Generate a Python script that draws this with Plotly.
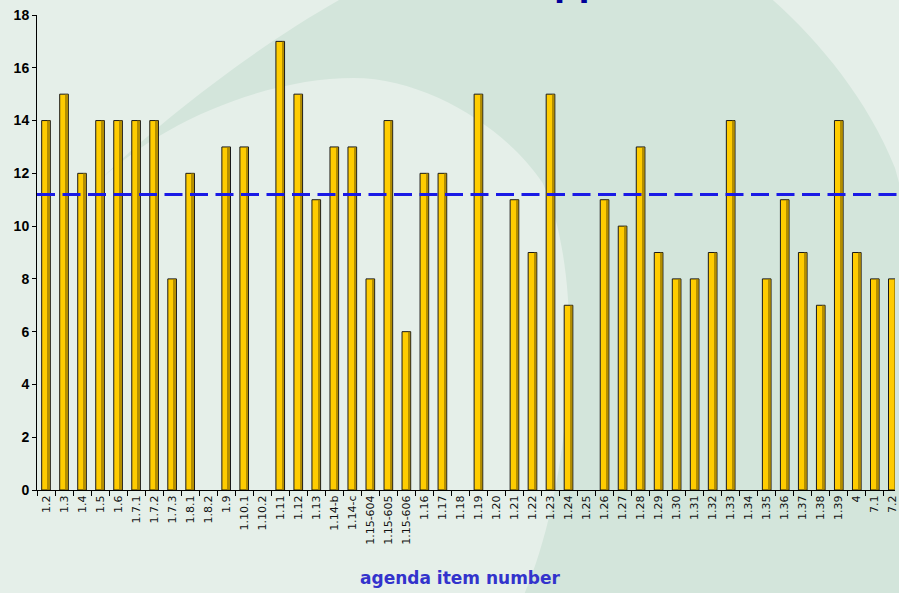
import plotly.graph_objects as go

# ---------------- data ----------------
agenda_items = ["1.2", "1.3", "1.4", "1.5", "1.6", "1.7.1", "1.7.2", "1.7.3", "1.8.1", "1.8.2",
                "1.9", "1.10.1", "1.10.2", "1.11", "1.12", "1.13", "1.14-b", "1.14-c", "1.15-604",
                "1.15-605", "1.15-606", "1.16", "1.17", "1.18", "1.19", "1.20", "1.21", "1.22",
                "1.23", "1.24", "1.25", "1.26", "1.27", "1.28", "1.29", "1.30", "1.31", "1.32",
                "1.33", "1.34", "1.35", "1.36", "1.37", "1.38", "1.39", "4", "7.1", "7.2"]
counts = [14, 15, 12, 14, 14, 14, 14, 8, 12, 0,
          13, 13, 0, 17, 15, 11, 13, 13, 8,
          14, 6, 12, 12, 0, 15, 0, 11, 9,
          15, 7, 0, 11, 10, 13, 9, 8, 8, 9,
          14, 0, 8, 11, 9, 7, 14, 9, 8, 8]
average_value = 11.2
y_ticks = [0, 2, 4, 6, 8, 10, 12, 14, 16, 18]
title_text = "Support"
x_title = "agenda item number"

# ---------------- layout geometry ----------------
W, H = 899, 593
L, R, T, B = 37, 0, 15, 103
PW, PH = W - L - R, H - T - B


def px(x):
    return (x - L) / PW


def py(y):
    return 1 - (y - T) / PH


def pt(x, y):
    return f"{px(x):.5f},{py(y):.5f}"


# dark decorative swoosh in the background
bg_path = (
    f"M {pt(92,188)} "
    f"C {pt(160,120)} {pt(260,45)} {pt(344,-2)} "
    f"L {pt(774,-2)} "
    f"C {pt(822,40)} {pt(872,100)} {pt(899,168)} "
    f"L {pt(905,190)} L {pt(905,600)} L {pt(527,600)} L {pt(527,593)} "
    f"C {pt(575,480)} {pt(590,280)} {pt(545,183)} "
    f"C {pt(510,130)} {pt(430,78)} {pt(355,78)} "
    f"C {pt(270,78)} {pt(160,120)} {pt(92,188)} Z"
)

outline_widths = [1 if v > 0 else 0 for v in counts]

fig = go.Figure()

fig.add_trace(go.Bar(
    x=agenda_items, y=counts, width=0.48, offset=-0.24,
    marker=dict(color="#FFCC00", line=dict(color="#1a1a1a", width=outline_widths)),
    showlegend=False, hoverinfo="x+y",
))
# darker right-hand shading of each bar
fig.add_trace(go.Bar(
    x=agenda_items, y=counts, width=0.11, offset=0.1,
    marker=dict(color="#9C7A00", line=dict(width=0)), opacity=0.75,
    showlegend=False, hoverinfo="skip",
))

fig.update_layout(
    width=W, height=H,
    margin=dict(l=L, r=R, t=T, b=B, pad=0),
    paper_bgcolor="#E5EFE9",
    plot_bgcolor="rgba(0,0,0,0)",
    barmode="overlay",
    font=dict(family="Liberation Sans, Arial, sans-serif", color="#000000"),
    shapes=[
        dict(type="path", xref="paper", yref="paper", path=bg_path,
             fillcolor="#D3E5DB", line=dict(width=0), layer="below"),
        dict(type="line", xref="paper", yref="y", x0=0, x1=1.02,
             y0=average_value, y1=average_value,
             line=dict(color="#1A1AE6", width=3, dash="18px,7.5px"), layer="above"),
    ],
    annotations=[
        dict(text=f"<b>{title_text}</b>", xref="paper", yref="paper",
             x=px(582), y=py(5.5), xanchor="center", yanchor="bottom",
             showarrow=False, font=dict(size=40, color="#000099",
                                        family="Liberation Sans, Arial, sans-serif")),
        dict(text=f"<b>{x_title}</b>", xref="paper", yref="paper",
             x=px(462), y=py(578), xanchor="center", yanchor="middle",
             showarrow=False, font=dict(size=17, color="#3333CC",
                                        family="DejaVu Sans, sans-serif")),
    ],
)

fig.update_xaxes(
    type="category", range=[-0.5, 47.12],
    showline=True, linecolor="#000000", linewidth=1,
    ticks="outside", tickson="boundaries", ticklen=5, tickcolor="#000000",
    tickangle=-90, tickfont=dict(size=11, color="#111111", family="DejaVu Sans, sans-serif"),
    showgrid=False, zeroline=False,
)
fig.update_yaxes(
    range=[0, 18], tickvals=y_ticks,
    showline=True, linecolor="#000000", linewidth=1,
    ticks="outside", ticklen=4, tickcolor="#000000",
    tickfont=dict(size=14, color="#000000", weight="bold"),
    showgrid=False, zeroline=False,
)

fig.write_html(
    "out.html",
    config={"displayModeBar": False},
    post_script="document.body.style.margin='0';document.body.style.overflow='hidden';",
)
